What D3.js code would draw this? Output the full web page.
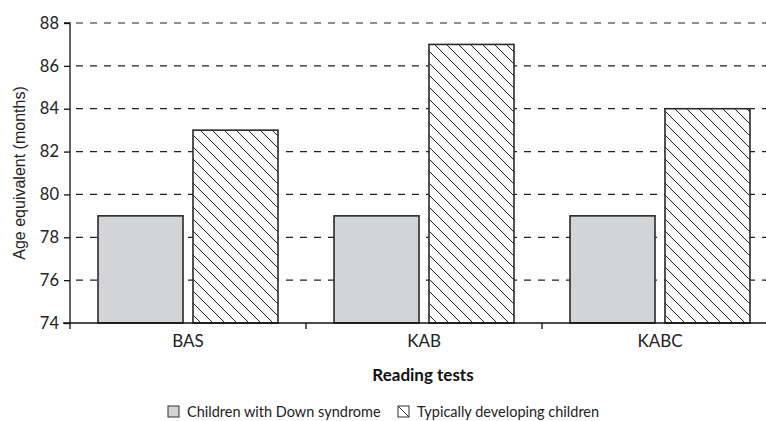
<!DOCTYPE html>
<html><head><meta charset="utf-8">
<script src="https://cdn.jsdelivr.net/npm/d3@7"></script>
<style>
body{margin:0;background:#fff;}
svg{display:block;}
</style></head>
<body>
<svg id="chart" width="766" height="421"></svg>
<script>
const categories = ["BAS", "KAB", "KABC"];
const seriesNames = ["Children with Down syndrome", "Typically developing children"];
const downSyndrome = [79, 79, 79];
const typical = [83, 87, 84];
const yTicks = [74, 76, 78, 80, 82, 84, 86, 88];

(function(){
const svg = d3.select("#chart");
const font = "Lato, 'Open Sans', sans-serif";
const mLeft = 70, mRight = 778, mTop = 23, mBottom = 323;

const defs = svg.append("defs");
const pat = defs.append("pattern").attr("id","hatch").attr("patternUnits","userSpaceOnUse")
  .attr("width", 12).attr("height", 12);
pat.append("rect").attr("width",12).attr("height",12).attr("fill","#fff");
pat.append("path").attr("d","M-3,-3 L15,15 M-3,9 L3,15 M9,-3 L15,3")
  .attr("stroke","#222").attr("stroke-width",1);

const x0 = d3.scaleBand().domain(categories).range([mLeft, mRight]).paddingInner(0).paddingOuter(0);
const x1 = d3.scaleBand().domain(seriesNames).range([0, x0.bandwidth()]).paddingInner(0.105).paddingOuter(0.295);
const y = d3.scaleLinear().domain([74, 88]).range([mBottom, mTop]);

// grid
svg.append("g").selectAll("line").data(yTicks.slice(1)).join("line")
  .attr("x1", mLeft + 6).attr("x2", 766).attr("y1", d => y(d)).attr("y2", d => y(d))
  .attr("stroke","#222").attr("stroke-width",1.2).attr("stroke-dasharray","7,7");

// bars
const data = categories.map((c,i) => ({c, vals:[downSyndrome[i], typical[i]]}));
const g = svg.append("g").selectAll("g").data(data).join("g")
  .attr("transform", d => `translate(${x0(d.c)},0)`);
g.selectAll("rect").data(d => d.vals.map((v,j)=>({v, s:seriesNames[j], j}))).join("rect")
  .attr("x", d => x1(d.s)).attr("width", x1.bandwidth())
  .attr("y", d => y(d.v)).attr("height", d => y(74) - y(d.v))
  .attr("fill", d => d.j === 0 ? "#d3d4d6" : "url(#hatch)")
  .attr("stroke","#2a2a2a").attr("stroke-width",1.6);

// y axis
const yAxis = d3.axisLeft(y).tickValues(yTicks).tickSize(6).tickPadding(5).tickFormat(d3.format("d"));
const ya = svg.append("g").attr("transform",`translate(${mLeft},0)`).call(yAxis);
ya.select(".domain").attr("stroke","#111").attr("stroke-width",1.3).attr("d",`M-6,${mTop}H0V${mBottom}`);
ya.selectAll(".tick line").attr("stroke","#111").attr("stroke-width",1.3);
ya.selectAll("text").attr("font-family",font).attr("font-size",16.5).attr("fill","#222");

// x axis
const xAxis = d3.axisBottom(x0).tickSize(0).tickPadding(12);
const xa = svg.append("g").attr("transform",`translate(0,${mBottom})`).call(xAxis);
xa.select(".domain").attr("stroke","#111").attr("stroke-width",1.3).attr("d",`M${mLeft-7},0H${mRight}`);
xa.selectAll("text").attr("font-family",font).attr("font-size",17).attr("fill","#222");
const bounds = categories.map(c => x0(c));
xa.append("g").selectAll("line").data(bounds).join("line")
  .attr("x1", d=>d).attr("x2", d=>d).attr("y1",0).attr("y2",6)
  .attr("stroke","#111").attr("stroke-width",1.3);

// axis titles
svg.append("text").attr("x", 423).attr("y", 381).attr("text-anchor","middle")
  .attr("font-family",font).attr("font-weight","bold").attr("font-size",17).attr("fill","#111")
  .text("Reading tests");
svg.append("text").attr("transform","translate(25,173) rotate(-90)").attr("text-anchor","middle")
  .attr("font-family","'Liberation Sans', Arial, sans-serif").attr("font-size",16).attr("fill","#222")
  .text("Age equivalent (months)");

// legend
const legendX = [168, 398];
const lg = svg.append("g").selectAll("g").data(seriesNames).join("g")
  .attr("transform",(d,i)=>`translate(${legendX[i]},406)`);
lg.append("rect").attr("width",11).attr("height",11)
  .attr("fill",(d,i)=> i===0 ? "#d3d4d6" : "#fff").attr("stroke","#333").attr("stroke-width",1);
lg.filter((d,i)=>i===1).append("line").attr("x1",0).attr("y1",0).attr("x2",11).attr("y2",11)
  .attr("stroke","#333").attr("stroke-width",1);
lg.append("text").attr("x",19).attr("y",11).attr("font-family",font).attr("font-size",14.5).attr("fill","#222")
  .text(d=>d);
})();
</script>
</body></html>
